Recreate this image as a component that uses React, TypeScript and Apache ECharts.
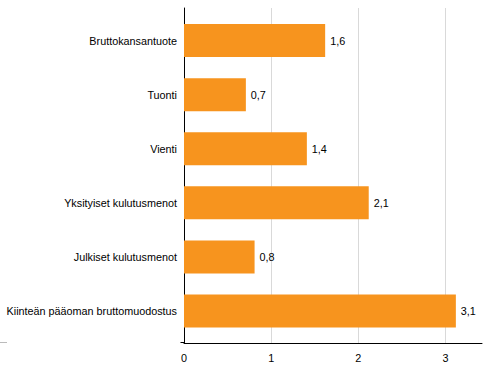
import React, { useEffect, useRef } from "react";
import * as echarts from "echarts";

const categories = [
  "Bruttokansantuote",
  "Tuonti",
  "Vienti",
  "Yksityiset kulutusmenot",
  "Julkiset kulutusmenot",
  "Kiinteän pääoman bruttomuodostus",
];
const values = [1.62, 0.71, 1.41, 2.12, 0.81, 3.12];
const xTicks = [0, 1, 2, 3];

const FONT = "'Liberation Sans', Arial, sans-serif";
const FS = 10.8;

export default function App() {
  const ref = useRef<HTMLDivElement>(null);
  useEffect(() => {
    if (!ref.current) return;
    const chart = echarts.init(ref.current, null, { renderer: "svg" });
    const xMax = 3.42;
    const left = 184;
    const right = 9;
    const plotW = 491 - left - right;
    const gridW = (plotW * xTicks[xTicks.length - 1]) / xMax;
    chart.setOption({
      animation: false,
      textStyle: { fontFamily: FONT },
      grid: [
        { left, right, top: 8, height: 335 },
        { left, right, top: 13.5, height: 324.6 },
        { left, width: gridW, top: 8, height: 335 },
      ],
      graphic: [
        {
          type: "line",
          shape: { x1: 180.5, y1: 342.5, x2: 184, y2: 342.5 },
          style: { stroke: "#000", lineWidth: 1 },
        },
        {
          type: "line",
          shape: { x1: 0, y1: 342.5, x2: 7, y2: 342.5 },
          style: { stroke: "#bbb", lineWidth: 1 },
        },
      ],
      xAxis: [
        {
          gridIndex: 0,
          type: "value",
          min: 0,
          max: xMax,
          interval: 1,
          axisLine: { show: true, lineStyle: { color: "#000", width: 1 } },
          axisTick: { show: false },
          splitLine: { show: false },
          axisLabel: {
            color: "#000",
            fontSize: FS,
            fontFamily: FONT,
            margin: 9,
            formatter: (v: number) => (Number.isInteger(v) ? String(v) : ""),
          },
        },
        {
          gridIndex: 1,
          type: "value",
          min: 0,
          max: xMax,
          show: false,
        },
        {
          gridIndex: 2,
          type: "value",
          min: 0,
          max: xTicks[xTicks.length - 1],
          interval: 1,
          axisLine: { show: false },
          axisTick: { show: false },
          axisLabel: { show: false },
          splitLine: { show: true, lineStyle: { color: "#d9d9d9", width: 1 } },
        },
      ],
      yAxis: [
        {
          gridIndex: 0,
          type: "category",
          data: categories,
          inverse: true,
          axisLine: { show: true, lineStyle: { color: "#000", width: 1 } },
          axisTick: { show: false },
          axisLabel: { show: false },
          splitLine: { show: false },
        },
        {
          gridIndex: 1,
          type: "category",
          data: categories,
          inverse: true,
          axisLine: { show: false },
          axisTick: { show: false },
          axisLabel: {
            color: "#000",
            fontSize: FS,
            fontFamily: FONT,
            margin: 7,
          },
        },
        {
          gridIndex: 2,
          type: "category",
          data: categories,
          show: false,
        },
      ],
      series: [
        {
          type: "bar",
          xAxisIndex: 1,
          yAxisIndex: 1,
          data: values,
          barWidth: 33,
          itemStyle: { color: "#F7941E" },
          label: {
            show: true,
            position: "right",
            distance: 5,
            color: "#000",
            fontSize: FS,
            fontFamily: FONT,
            formatter: (p: any) => p.value.toFixed(1).replace(".", ","),
          },
        },
      ],
    });
    return () => chart.dispose();
  }, []);
  return <div ref={ref} style={{ width: 491, height: 378, position: "absolute", left: 0, top: 0 }} />;
}
